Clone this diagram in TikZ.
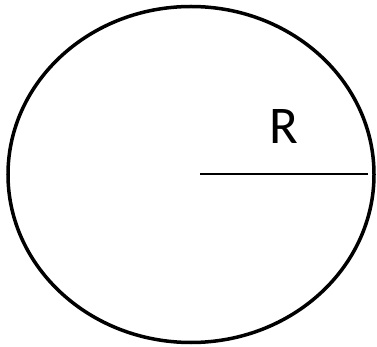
\documentclass[tikz,border=0pt]{standalone}
\usepackage{fontspec}
\setmainfont{Carlito}
\usetikzlibrary{shapes.geometric}
\begin{document}
\begin{tikzpicture}[x=1pt,y=-1pt,
  outline/.style={draw=black,line width=3.5pt},
  radius line/.style={draw=black,line width=2pt},
  label/.style={font=\fontsize{53}{53}\selectfont,inner sep=0pt,anchor=base}]
\useasboundingbox (0,0) rectangle (377,347);
\node[outline,ellipse,minimum width=366pt,minimum height=336pt,inner sep=0pt] (circ) at (191,174.5) {};
\coordinate (c) at (200,174);
\coordinate (edge) at (368,174);
\draw[radius line] (c) -- (edge);
\node[label] (R) at (284,144) {R};
\end{tikzpicture}
\end{document}
